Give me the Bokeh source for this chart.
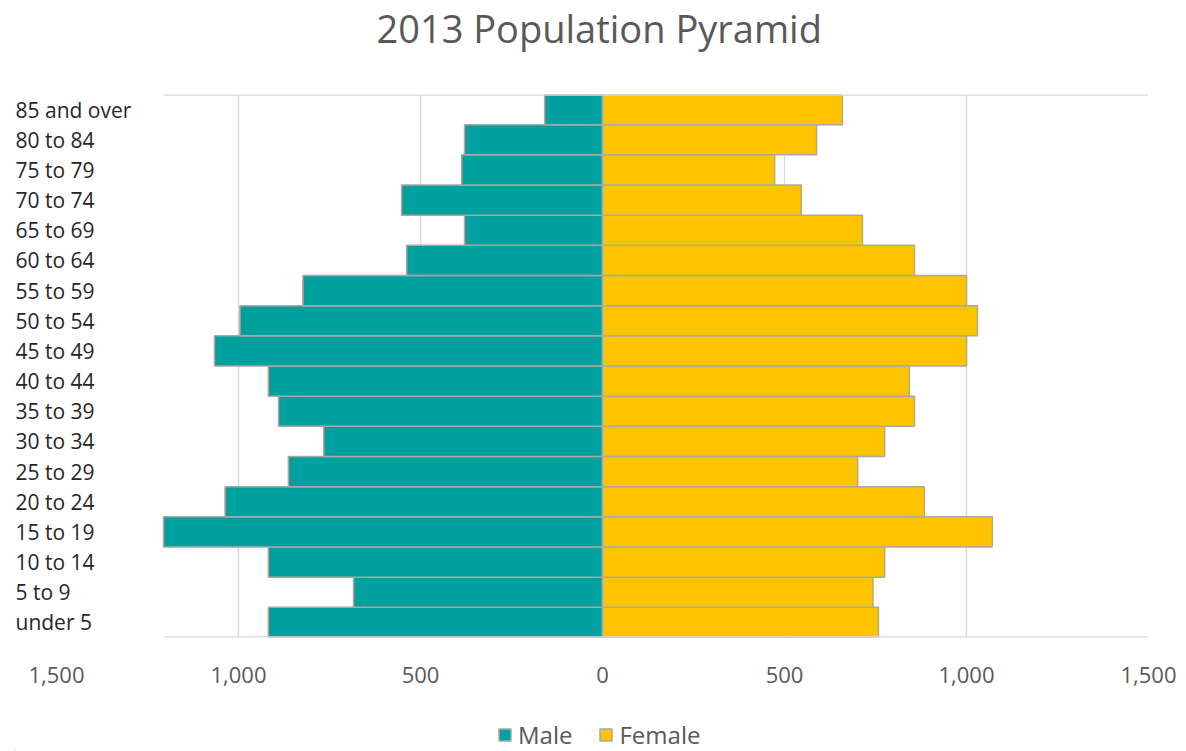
from bokeh.plotting import figure
from bokeh.layouts import column
from bokeh.models import (FactorRange, Range1d, FixedTicker, Legend, LegendItem,
                          LabelSet, Label, ColumnDataSource)
from bokeh.core.properties import value
from bokeh.embed import file_html
from bokeh.resources import INLINE

# ---- data (bottom to top) ----
age_groups = ["under 5", "5 to 9", "10 to 14", "15 to 19", "20 to 24", "25 to 29",
              "30 to 34", "35 to 39", "40 to 44", "45 to 49", "50 to 54", "55 to 59",
              "60 to 64", "65 to 69", "70 to 74", "75 to 79", "80 to 84", "85 and over"]
male = [918, 684, 918, 1206, 1037, 863, 766, 890, 918, 1066, 996, 823,
        538, 379, 552, 387, 379, 159]
female = [758, 743, 775, 1071, 884, 701, 775, 857, 843, 1000, 1030, 1000,
          857, 714, 546, 473, 588, 659]
x_ticks = [-1500, -1000, -500, 0, 500, 1000, 1500]
tick_labels = ["1,500", "1,000", "500", "0", "500", "1,000", "1,500"]
series = ["Male", "Female"]
chart_title = "2013 Population Pyramid"

TEAL = "#00A09E"
GOLD = "#FFC400"
EDGE = "#A8A8A8"
GRID = "#D9D9D9"
TXT = "#595959"
FONT = "Open Sans"

# layout (pixels)
W, H = 1186, 751
TITLE_H = 60                   # height of the title strip
LEG_H = 51                     # height of the legend strip at the bottom
AXIS_L, AXIS_R = 56, 1148      # where the first / last value ticks sit
LABEL_L = 15                   # left edge of the category labels
TOP, BOTTOM = 94, 637          # plot area top / bottom (page pixels)
px_per_unit = (AXIS_R - AXIS_L) / (x_ticks[-1] - x_ticks[0])
x_start = x_ticks[0] - (AXIS_L - LABEL_L) / px_per_unit


def strip(height):
    f = figure(width=W, height=height, output_backend="svg", toolbar_location=None,
               x_axis_type=None, y_axis_type=None, x_range=Range1d(0, W),
               y_range=Range1d(0, height), min_border=0, min_border_left=0,
               min_border_right=0, min_border_top=0, min_border_bottom=0)
    f.outline_line_color = None
    f.background_fill_color = "white"
    f.border_fill_color = "white"
    return f


# ---- title strip ----
tf = strip(TITLE_H)
tf.add_layout(Label(x=611, y=TITLE_H - 27, text=chart_title, text_align="center",
                    text_baseline="alphabetic", text_font=FONT,
                    text_font_size="38px", text_color=TXT))

# ---- main chart ----
src = ColumnDataSource(dict(cat=age_groups,
                            mleft=[-m for m in male], zero=[0] * len(male),
                            fright=female, lx=[x_start] * len(male)))

p = figure(width=W, height=H - LEG_H - TITLE_H, output_backend="svg",
           toolbar_location=None,
           y_range=FactorRange(factors=age_groups, range_padding=0),
           x_range=Range1d(x_start, x_ticks[-1]),
           min_border_left=LABEL_L, min_border_right=W - AXIS_R,
           min_border_top=TOP - TITLE_H, min_border_bottom=H - LEG_H - BOTTOM)
p.outline_line_color = None
p.background_fill_color = "white"
p.border_fill_color = "white"

r_m = p.hbar(y="cat", left="mleft", right="zero", height=1.0, source=src,
             fill_color=TEAL, line_color=EDGE, line_width=1.5)
r_f = p.hbar(y="cat", left="zero", right="fright", height=1.0, source=src,
             fill_color=GOLD, line_color=EDGE, line_width=1.5)

# grid
p.ygrid.visible = False
p.xgrid.ticker = FixedTicker(ticks=[t for t in x_ticks if t not in (x_ticks[0], 0)])
p.xgrid.grid_line_color = GRID
p.xgrid.grid_line_width = 1.5
p.xgrid.level = "underlay"

# top and bottom border lines of plot area
left_edge = -max(male)
p.segment(x0=[left_edge, left_edge], x1=[x_ticks[-1], x_ticks[-1]],
          y0=[0, len(age_groups)], y1=[0, len(age_groups)],
          line_color=GRID, line_width=2.5)

# x axis
xa = p.xaxis[0]
xa.ticker = FixedTicker(ticks=x_ticks)
xa.major_label_overrides = {t: lab for t, lab in zip(x_ticks, tick_labels)}
xa.axis_line_color = None
xa.major_tick_line_color = None
xa.minor_tick_line_color = None
xa.major_tick_out = 0
xa.major_tick_in = 0
xa.major_label_standoff = 29
xa.major_label_text_font = FONT
xa.major_label_text_font_size = "22px"
xa.major_label_text_color = TXT

# y axis hidden; category labels drawn as a label set inside the frame
p.yaxis.visible = False
labels = LabelSet(x="lx", y="cat", text="cat", source=src,
                  text_align="left", text_baseline="middle",
                  text_font=value(FONT), text_font_size=value("21px"),
                  text_color="#262626")
p.add_layout(labels)

# ---- legend strip ----
lf = strip(LEG_H)
# swatch renderers sit far outside the visible range; only their legend glyphs show
sw_m = lf.hbar(y=[0], left=[-W], right=[-W / 2], height=1.0, fill_color=TEAL,
               line_color=EDGE, line_width=1.5)
sw_f = lf.hbar(y=[0], left=[-W], right=[-W / 2], height=1.0, fill_color=GOLD,
               line_color=EDGE, line_width=1.5)
legend = Legend(items=[LegendItem(label=series[0], renderers=[sw_m]),
                       LegendItem(label=series[1], renderers=[sw_f])],
                orientation="horizontal", location=(482, 0),
                label_text_font=FONT, label_text_font_size="24px",
                label_text_color=TXT, glyph_width=15, glyph_height=15,
                spacing=26, padding=0, margin=0, border_line_color=None,
                background_fill_alpha=0, label_standoff=6)
lf.add_layout(legend)

layout = column(tf, p, lf, spacing=0)
open("out.html", "w").write(file_html(layout, INLINE))
